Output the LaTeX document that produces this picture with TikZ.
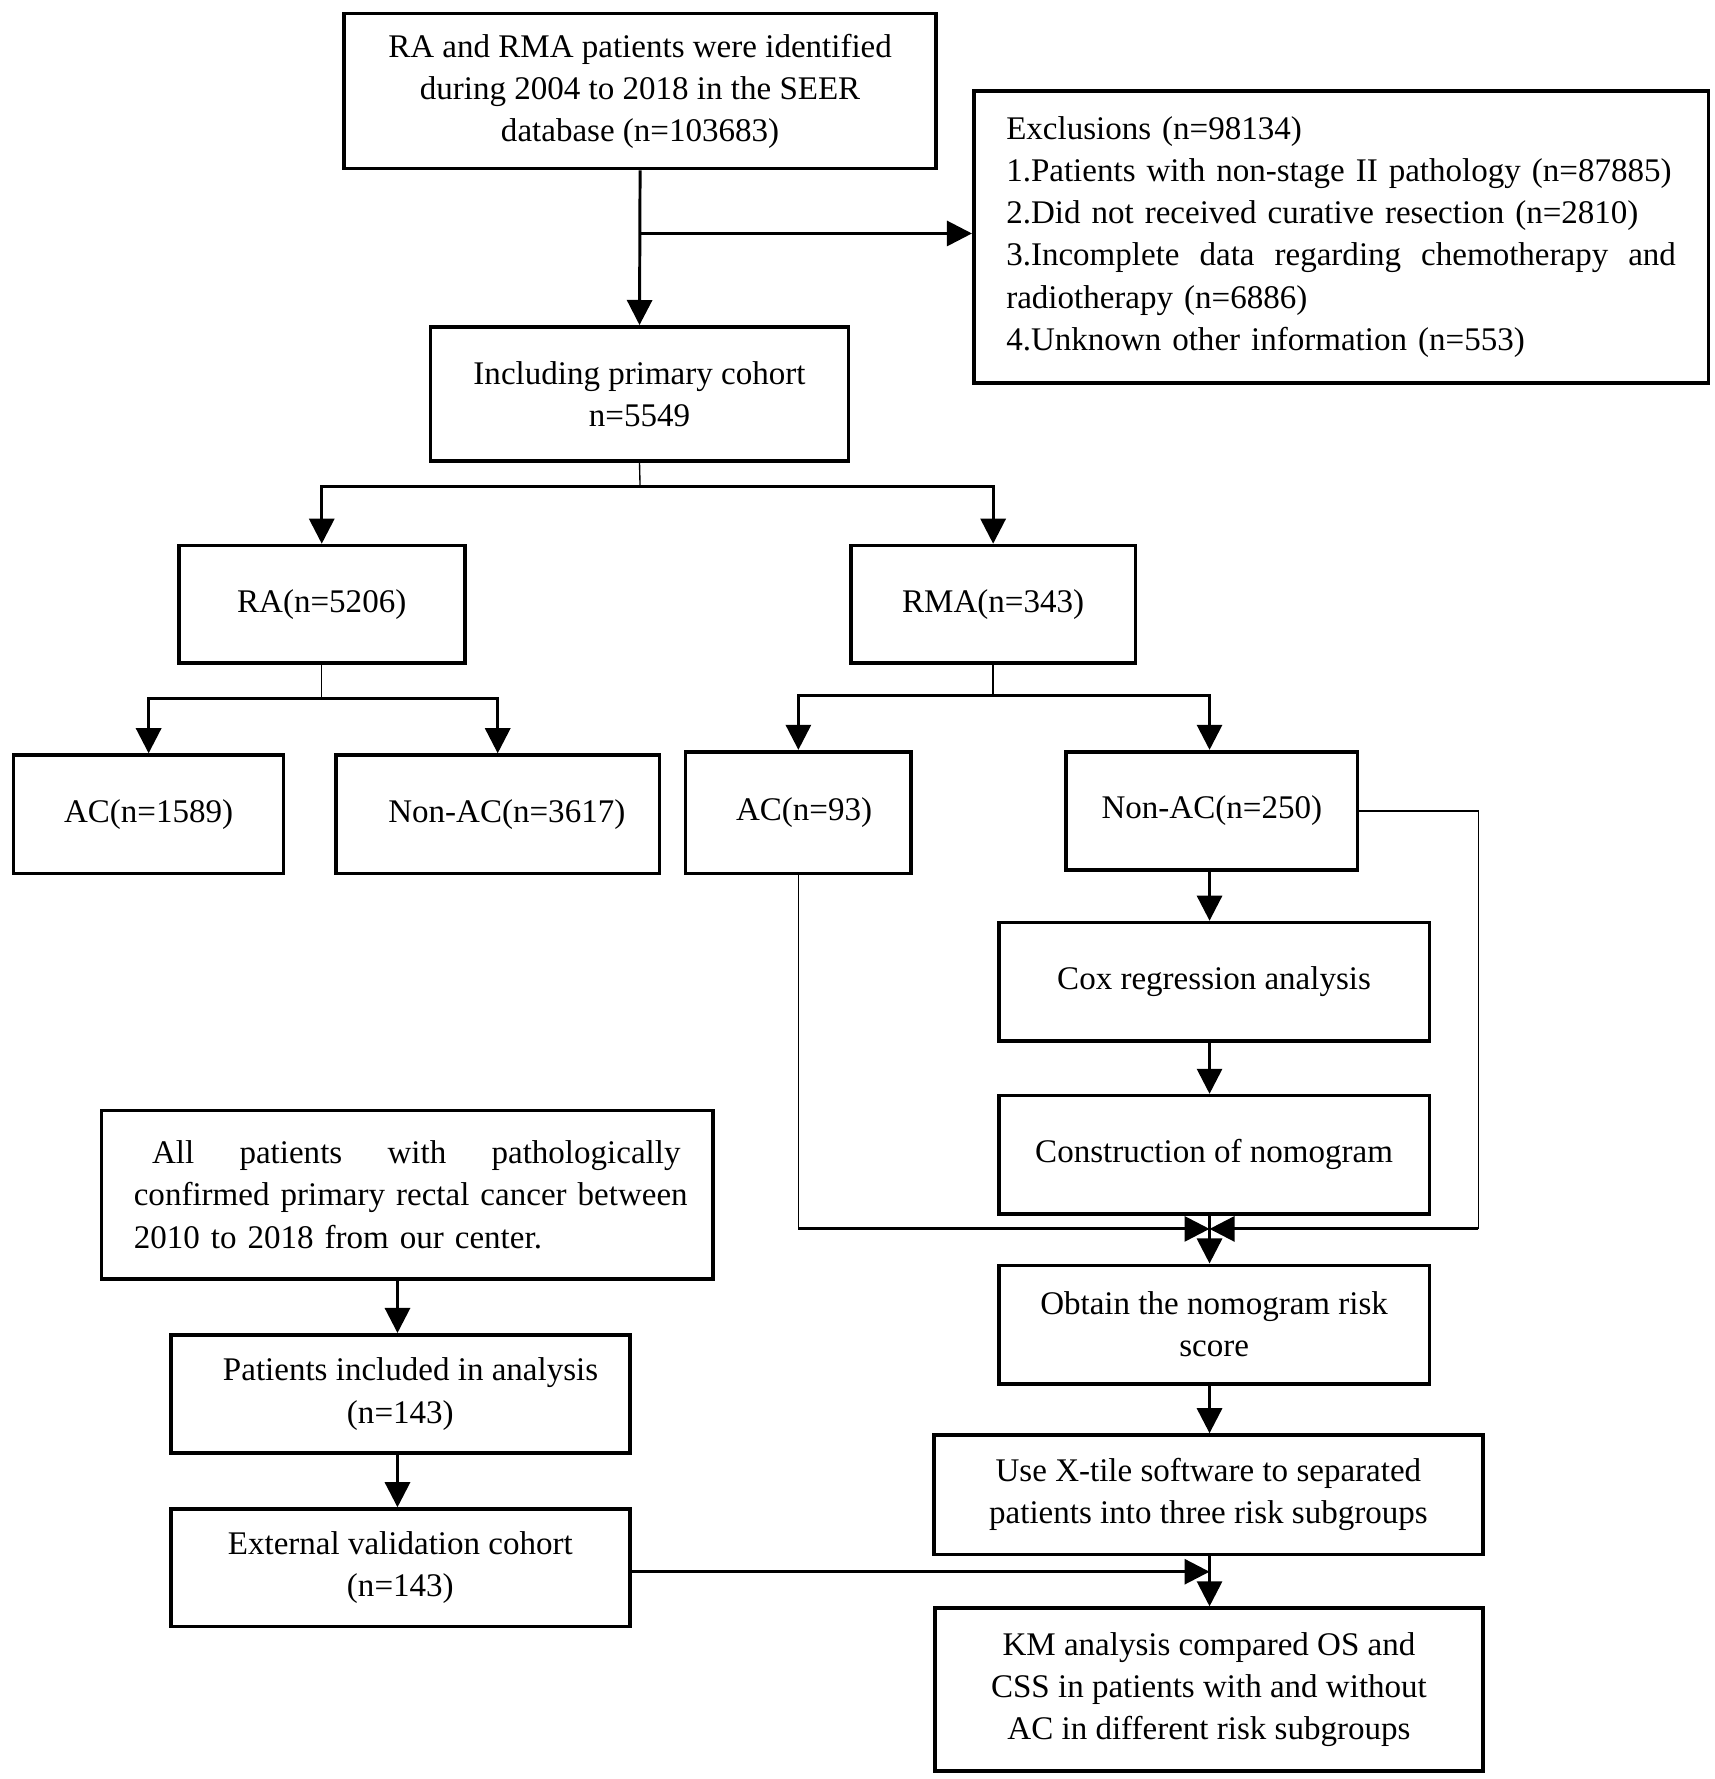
\documentclass[tikz,border=0pt]{standalone}
\usepackage{fontspec}
\setmainfont{Liberation Serif}
\usetikzlibrary{arrows.meta}
\begin{document}
\begin{tikzpicture}[x=0.5pt,y=-0.5pt,
  flowbox/.style={draw,line width=1.6pt,inner sep=0pt,font=\fontsize{14.5}{18.5}\selectfont,align=center},
  conn/.style={line width=1.3pt,-{Triangle[length=11pt,width=11pt]}},
  thinline/.style={line width=0.6pt},
]
\useasboundingbox (0,0) rectangle (1505,1562);

% boxes
\node[flowbox,minimum width=260pt,minimum height=68pt] (top) at (562,80)
  {RA and RMA patients were identified\\during 2004 to 2018 in the SEER\\database (n=103683)};
\node[flowbox,minimum width=322.5pt,minimum height=128pt,text width=294pt,align=left] (excl) at (1177.5,208)
  {\mbox{Exclusions (n=98134)}\\
   \mbox{1.Patients with non-stage II pathology (n=87885)}\\
   \mbox{2.Did not received curative resection (n=2810)}\\
   \makebox[294pt][l]{3.Incomplete\hfill data\hfill regarding\hfill chemotherapy\hfill and}\\
   \mbox{radiotherapy (n=6886)}\\
   \mbox{4.Unknown other information (n=553)}};
\node[flowbox,minimum width=183.5pt,minimum height=59pt] (incl) at (561.5,346)
  {Including primary cohort\\n=5549};
\node[flowbox,minimum width=125.5pt,minimum height=51.5pt] (RA) at (282.5,530.5) {RA(n=5206)};
\node[flowbox,minimum width=125pt,minimum height=51.5pt] (RMA) at (872,530.5) {RMA(n=343)};
\node[flowbox,minimum width=118.5pt,minimum height=52pt] (AC1) at (130.5,715) {AC(n=1589)};
\node[flowbox,minimum width=142pt,minimum height=52pt] (NonAC1) at (437,715) {\hspace*{8pt}Non-AC(n=3617)};
\node[flowbox,minimum width=99pt,minimum height=53.5pt] (AC2) at (701,713.5) {\hspace*{5pt}AC(n=93)};
\node[flowbox,minimum width=128pt,minimum height=52pt] (NonAC2) at (1064,712) {Non-AC(n=250)};
\node[flowbox,minimum width=189pt,minimum height=52pt] (Cox) at (1066,862) {Cox regression analysis};
\node[flowbox,minimum width=189pt,minimum height=52pt] (Constr) at (1066,1014) {Construction of nomogram};
\node[flowbox,minimum width=189pt,minimum height=52pt] (Obtain) at (1066,1163) {Obtain the nomogram risk\\score};
\node[flowbox,minimum width=241pt,minimum height=52.5pt] (Xtile) at (1061,1312.5)
  {Use X-tile software to separated\\patients into three risk subgroups};
\node[flowbox,minimum width=240.5pt,minimum height=71.5pt] (KM) at (1061.5,1483.5)
  {KM analysis compared OS and\\CSS in patients with and without\\AC in different risk subgroups};
\node[flowbox,minimum width=268.5pt,minimum height=74pt,text width=240pt,align=left] (All) at (357.5,1049)
  {\makebox[240pt][l]{\hspace*{8pt}All\hfill patients\hfill with\hfill pathologically}\\
   \mbox{confirmed primary rectal cancer between}\\
   \mbox{2010 to 2018 from our center.}};
\node[flowbox,minimum width=201.5pt,minimum height=52pt] (PatInc) at (351.5,1224)
  {\hspace*{9pt}Patients included in analysis\\(n=143)};
\node[flowbox,minimum width=201.5pt,minimum height=51.5pt] (ExtVal) at (351.5,1376.5)
  {External validation cohort\\(n=143)};

% helper coordinates
\coordinate (col) at (1062,0);
\coordinate (lc) at (349,0);
\coordinate (rcol) at (1298,0);
\coordinate (b1) at (562,205);
\coordinate (f1) at (562,427);
\coordinate (y613) at (0,613);
\coordinate (y611) at (0,611);
\coordinate (y1079) at (0,1079);
\coordinate (y1380) at (0,1380);
\coordinate (M) at (col |- y1079);

% connectors
\draw[conn] (top.south) -- (incl.north);
\draw[conn] (b1) -- (b1 -| excl.west);

\draw[thinline] (incl.south) -- (f1);
\draw[conn] (f1) -| (RA.north);
\draw[conn] (f1) -| (RMA.north);

\draw[thinline] (RA.south) -- (RA.south |- y613);
\draw[conn] (RA.south |- y613) -| (AC1.north);
\draw[conn] (RA.south |- y613) -| (NonAC1.north);

\draw[thinline] (RMA.south) -- (RMA.south |- y611);
\draw[conn] (RMA.south |- y611) -| (AC2.north);
\draw[conn] (RMA.south |- y611) -| (NonAC2.north -| col);

\draw[conn] (NonAC2.south -| col) -- (Cox.north -| col);
\draw[conn] (Cox.south -| col) -- (Constr.north -| col);

\draw[thinline] (AC2.south) -- (AC2.south |- M);
\draw[conn] (AC2.south |- M) -- (M);
\draw[thinline] (NonAC2.east) -- (NonAC2.east -| rcol) -- (rcol |- M);
\draw[conn] (rcol |- M) -- (M);

\draw[conn] (Constr.south -| col) -- (Obtain.north -| col);
\draw[conn] (Obtain.south -| col) -- (Xtile.north -| col);
\draw[conn] (Xtile.south -| col) -- (KM.north -| col);

\draw[conn] (All.south -| lc) -- (PatInc.north -| lc);
\draw[conn] (PatInc.south -| lc) -- (ExtVal.north -| lc);
\draw[conn] (ExtVal.east |- y1380) -- (col |- y1380);
\end{tikzpicture}
\end{document}
